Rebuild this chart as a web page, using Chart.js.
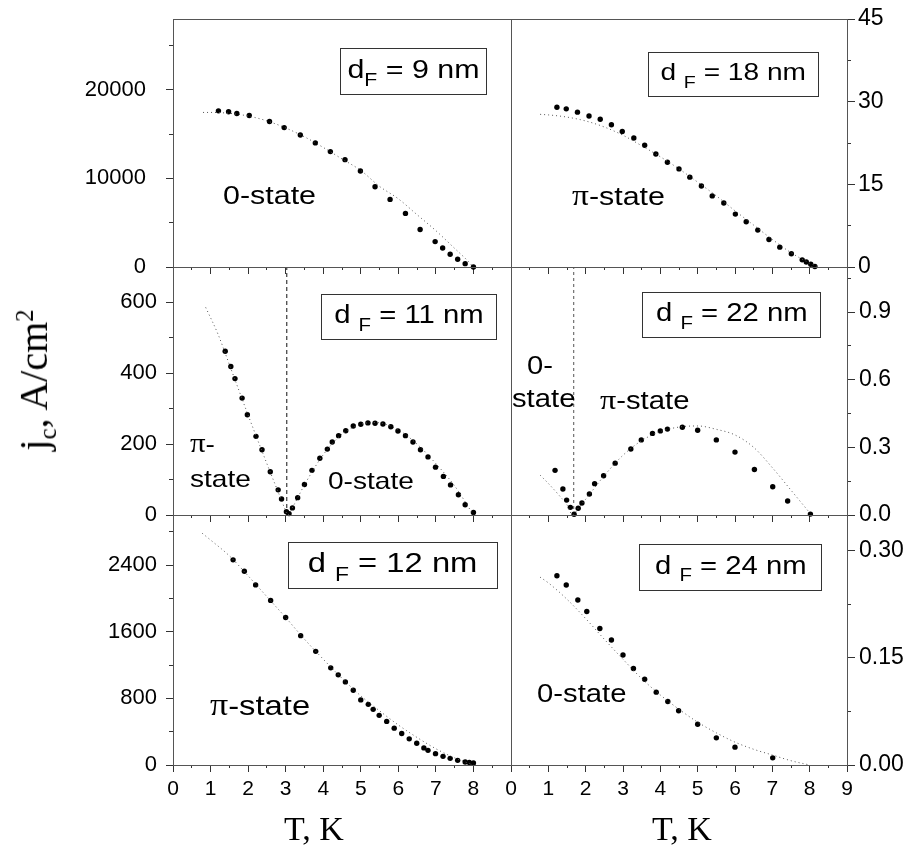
<!DOCTYPE html>
<html lang="en">
<head>
    <meta charset="UTF-8">
    <title>jc(T) for different dF</title>
    <script src="https://cdn.jsdelivr.net/npm/chart.js"></script>
    <style>
        body { margin: 0; background: #fff; }
        #wrap { position: relative; width: 918px; height: 845px; overflow: hidden; font-family: "Liberation Sans", Arial, sans-serif; color: #000; }
        #wrap canvas { position: absolute; left: 0; top: 0; }
        .box { position: absolute; box-sizing: border-box; border: 1px solid #333; display: flex; align-items: center; justify-content: center; white-space: nowrap; line-height: 1; }
        .box span { display: inline-block; transform: scaleX(1.17); padding-bottom: 5px; }
        .box sub { font-size: 0.7em; vertical-align: baseline; position: relative; top: 0.45em; }
        .lbl { position: absolute; line-height: 1; white-space: nowrap; transform: scaleX(1.17); transform-origin: left center; }
        .pi { font-family: "Liberation Serif", serif; font-size: 1.1em; }
        .title { position: absolute; font-family: "Liberation Serif", "Times New Roman", serif; white-space: nowrap; line-height: 1; }
        .title sub, .title sup { font-size: 0.62em; }
    </style>
</head>
<body>
<div id="wrap">
    <canvas id="c9" width="918" height="845"></canvas>
    <canvas id="c18" width="918" height="845"></canvas>
    <canvas id="c11" width="918" height="845"></canvas>
    <canvas id="c22" width="918" height="845"></canvas>
    <canvas id="c12" width="918" height="845"></canvas>
    <canvas id="c24" width="918" height="845"></canvas>

    <!-- thickness labels -->
    <div class="box" style="left:340px;top:48px;width:147px;height:47px;font-size:26px"><span>d<sub>F</sub> = 9 nm</span></div>
    <div class="box" style="left:648px;top:52px;width:171px;height:45px;font-size:24px"><span>d <sub>F</sub> = 18 nm</span></div>
    <div class="box" style="left:321px;top:294px;width:176px;height:46px;font-size:25px"><span>d <sub>F</sub> = 11 nm</span></div>
    <div class="box" style="left:642px;top:292px;width:179px;height:46px;font-size:25px"><span>d <sub>F</sub> = 22 nm</span></div>
    <div class="box" style="left:288px;top:542px;width:210px;height:47px;font-size:28px"><span>d <sub>F</sub> = 12 nm</span></div>
    <div class="box" style="left:639px;top:544px;width:183px;height:47px;font-size:25px"><span>d <sub>F</sub> = 24 nm</span></div>

    <!-- state labels -->
    <div class="lbl" style="left:223px;top:182px;font-size:26px">0-state</div>
    <div class="lbl" style="left:572px;top:182px;font-size:26px"><span class="pi">π</span>-state</div>
    <div class="lbl" style="left:190px;top:430px;font-size:24px"><span class="pi">π</span>-</div>
    <div class="lbl" style="left:190px;top:467px;font-size:24px">state</div>
    <div class="lbl" style="left:328px;top:469px;font-size:24px">0-state</div>
    <div class="lbl" style="left:527px;top:353px;font-size:25px">0-</div>
    <div class="lbl" style="left:512px;top:386px;font-size:25px">state</div>
    <div class="lbl" style="left:600px;top:386px;font-size:25px"><span class="pi">π</span>-state</div>
    <div class="lbl" style="left:210px;top:690px;font-size:28px"><span class="pi">π</span>-state</div>
    <div class="lbl" style="left:537px;top:681px;font-size:25px">0-state</div>

    <!-- axis titles -->
    <div class="title" style="left:37px;top:380px;font-size:40px;transform:translate(-50%,-50%) rotate(-90deg)">j<sub>c</sub>, A/cm<sup>2</sup></div>
    <div class="title" style="left:314px;top:812px;font-size:34px;transform:translateX(-50%)">T, K</div>
    <div class="title" style="left:682px;top:812px;font-size:34px;transform:translateX(-50%)">T, K</div>
</div>

<script>
    // ---- data ----
    // dF = 9 nm
    const T_9 = [1.21, 1.48, 1.70, 2.03, 2.57, 2.96, 3.39, 3.79, 4.19, 4.58, 4.99, 5.38, 5.78, 6.19, 6.58, 6.98, 7.18, 7.38, 7.58, 7.78, 8.00];
    const jc_9 = [17630, 17520, 17330, 17100, 16420, 15740, 14910, 14010, 13030, 12120, 10840, 9060, 7630, 6050, 4230, 2870, 2150, 1440, 870, 380, 0];
    const Tfit_9 = [0.8, 1.0, 1.5, 2.0, 2.5, 3.0, 3.5, 4.0, 4.5, 5.0, 5.5, 6.0, 6.5, 7.0, 7.5, 7.8, 8.0];
    const jcfit_9 = [17450, 17450, 17350, 17050, 16500, 15700, 14700, 13500, 12200, 10900, 9100, 7700, 5900, 4100, 2100, 900, 0];

    // dF = 18 nm
    const T_18 = [1.23, 1.48, 1.78, 2.09, 2.39, 2.69, 2.98, 3.29, 3.58, 3.88, 4.19, 4.50, 4.79, 5.10, 5.39, 5.70, 6.01, 6.30, 6.61, 6.91, 7.20, 7.51, 7.80, 7.91, 8.03, 8.14];
    const jc_18 = [29.0, 28.7, 28.1, 27.4, 26.8, 25.8, 24.6, 23.4, 22.1, 20.5, 19.0, 17.8, 16.3, 14.7, 12.9, 11.6, 9.6, 8.2, 6.7, 5.0, 3.6, 2.4, 1.3, 0.9, 0.5, 0.1];
    const Tfit_18 = [0.78, 1.0, 1.5, 2.0, 2.5, 3.0, 3.5, 4.0, 4.5, 5.0, 5.5, 6.0, 6.5, 7.0, 7.5, 8.0, 8.24];
    const jcfit_18 = [27.7, 27.6, 27.2, 26.5, 25.4, 23.9, 22.0, 20.0, 17.8, 15.4, 12.9, 10.2, 7.6, 5.0, 2.6, 0.7, 0];

    // dF = 11 nm
    const T_11 = [1.39, 1.54, 1.65, 1.84, 1.98, 2.21, 2.37, 2.59, 2.80, 2.89, 3.02, 3.09, 3.18, 3.32, 3.50, 3.70, 3.91, 4.11, 4.24, 4.41, 4.60, 4.80, 5.00, 5.19, 5.38, 5.59, 5.80, 5.99, 6.19, 6.39, 6.59, 6.79, 6.99, 7.20, 7.39, 7.60, 7.78, 8.00];
    const jc_11 = [462, 419, 385, 330, 283, 222, 184, 122, 71, 45, 9, 4, 20, 49, 86, 126, 160, 186, 206, 224, 238, 251, 256, 260, 259, 257, 249, 237, 224, 206, 184, 164, 135, 109, 85, 57, 29, 7];
    const Tfit_11 = [0.87, 1.2, 1.5, 2.0, 2.5, 2.8, 3.0, 3.05, 3.2, 3.5, 4.0, 4.5, 5.0, 5.4, 6.0, 6.5, 7.0, 7.5, 8.0];
    const jcfit_11 = [586, 510, 425, 282, 145, 65, 12, 0, 25, 85, 170, 228, 256, 261, 240, 200, 145, 82, 0];
    const Tcross_11 = 3.03;

    // dF = 22 nm
    const T_22 = [1.18, 1.39, 1.49, 1.59, 1.69, 1.80, 1.90, 2.10, 2.24, 2.48, 2.79, 3.21, 3.49, 3.79, 4.00, 4.19, 4.59, 5.00, 5.50, 6.00, 6.52, 7.01, 7.41, 8.02];
    const jc_22 = [0.198, 0.115, 0.066, 0.034, 0.003, 0.030, 0.053, 0.093, 0.139, 0.174, 0.230, 0.293, 0.333, 0.362, 0.373, 0.381, 0.389, 0.376, 0.333, 0.279, 0.202, 0.125, 0.062, 0.004];
    const Tfit_22 = [0.78, 1.0, 1.3, 1.5, 1.65, 1.8, 2.0, 2.5, 3.0, 3.5, 4.0, 4.5, 5.0, 5.5, 6.0, 6.5, 7.0, 7.5, 8.0];
    const jcfit_22 = [0.177, 0.14, 0.085, 0.045, 0, 0.03, 0.07, 0.175, 0.265, 0.33, 0.37, 0.39, 0.395, 0.38, 0.355, 0.30, 0.21, 0.11, 0.01];
    const Tcross_22 = 1.68;

    // dF = 12 nm
    const T_12 = [1.60, 1.90, 2.20, 2.60, 3.00, 3.40, 3.80, 4.20, 4.40, 4.59, 4.80, 5.00, 5.20, 5.33, 5.49, 5.69, 5.89, 6.09, 6.29, 6.49, 6.68, 6.79, 6.99, 7.19, 7.38, 7.58, 7.78, 7.89, 8.00];
    const jc_12 = [2462, 2325, 2161, 1975, 1770, 1552, 1364, 1166, 1082, 997, 897, 781, 728, 668, 596, 523, 442, 378, 314, 261, 205, 176, 136, 104, 80, 56, 36, 31, 24];
    const Tfit_12 = [0.78, 1.0, 1.5, 2.0, 2.5, 3.0, 3.5, 4.0, 4.5, 5.0, 5.5, 6.0, 6.5, 7.0, 7.5, 8.0];
    const jcfit_12 = [2780, 2700, 2510, 2270, 2020, 1770, 1510, 1270, 1040, 830, 650, 480, 330, 195, 85, 0];

    // dF = 24 nm
    const T_24 = [1.23, 1.48, 1.79, 2.03, 2.38, 2.69, 3.00, 3.28, 3.58, 3.89, 4.20, 4.49, 5.00, 5.50, 6.00, 7.01];
    const jc_24 = [0.265, 0.252, 0.231, 0.215, 0.191, 0.175, 0.154, 0.135, 0.120, 0.102, 0.089, 0.076, 0.057, 0.038, 0.025, 0.010];
    const Tfit_24 = [0.78, 1.0, 1.5, 2.0, 2.5, 3.0, 3.5, 4.0, 4.5, 5.0, 5.5, 6.0, 6.5, 7.0, 7.5, 8.0];
    const jcfit_24 = [0.263, 0.255, 0.232, 0.205, 0.176, 0.148, 0.121, 0.098, 0.078, 0.060, 0.045, 0.032, 0.022, 0.014, 0.006, 0];

    // tick labels
    const xLabelsLeft = [0, 1, 2, 3, 4, 5, 6, 7, 8];
    const xLabelsRight = [0, 1, 2, 3, 4, 5, 6, 7, 8, 9];
    const yLabels_9 = [0, 10000, 20000];
    const yLabels_18 = [0, 15, 30, 45];
    const yLabels_11 = [0, 200, 400, 600];
    const yLabels_22 = [0, 0.3, 0.6, 0.9];
    const yLabels_12 = [0, 800, 1600, 2400];
    const yLabels_24 = [0, 0.15, 0.30];

    // ---- layout ----
    const W = 918, H = 845;
    const colX = [[173, 511], [511, 847]];
    const rowY = [[19, 267], [267, 515], [515, 765]];

    Chart.defaults.font.family = '"Liberation Sans", Arial, sans-serif';
    Chart.defaults.color = '#000';

    const has = (arr, v) => arr.some(a => Math.abs(a - v) < 1e-9);
    const pts = (xs, ys) => xs.map((x, i) => ({ x: x, y: ys[i] }));

    // major + minor tick values from 0 up to max
    function tickValues(max, step) {
        const out = [];
        for (let i = 0; i * step <= max + 1e-9; i++) out.push({ value: +(i * step).toFixed(6) });
        return out;
    }

    // draws the full box round each panel
    const framePlugin = {
        id: 'frame',
        afterDraw(chart) {
            const a = chart.chartArea, ctx = chart.ctx;
            ctx.save();
            ctx.strokeStyle = '#555';
            ctx.lineWidth = 1;
            ctx.strokeRect(a.left + 0.5, a.top + 0.5, a.right - a.left, a.bottom - a.top);
            ctx.restore();
        }
    };

    function makePanel(id, p) {
        const [L, R] = colX[p.col];
        const [T, B] = rowY[p.row];
        const left = p.col === 0;
        const yw = left ? 100 : 70;
        const xh = p.row === 2 ? 45 : 12;
        const padding = left
            ? { left: L - yw, right: W - R, top: T, bottom: H - B - xh }
            : { left: L, right: W - R - yw, top: T, bottom: H - B - xh };
        const xLabels = left ? xLabelsLeft : xLabelsRight;

        const datasets = [
            {
                data: pts(p.Tfit, p.jcfit), showLine: true, pointRadius: 0,
                borderColor: '#555', borderWidth: 1, borderDash: [1, 3],
                cubicInterpolationMode: 'monotone', clip: 6
            },
            {
                data: pts(p.T, p.jc), showLine: false, pointRadius: 2.7,
                backgroundColor: '#000', borderWidth: 0, clip: 6
            }
        ];
        if (p.cross !== undefined) {
            datasets.push({
                data: [{ x: p.cross, y: 0 }, { x: p.cross, y: p.yMax }], showLine: true, pointRadius: 0,
                borderColor: p.crossColor, borderWidth: 1, borderDash: p.crossDash
            });
        }

        new Chart(document.getElementById(id), {
            type: 'scatter',
            data: { datasets: datasets },
            options: {
                responsive: false, animation: false, events: [],
                devicePixelRatio: 1,
                layout: { padding: padding },
                plugins: { legend: { display: false }, tooltip: { enabled: false } },
                scales: {
                    x: {
                        type: 'linear', position: 'bottom', min: 0, max: 9, bounds: 'data',
                        afterBuildTicks: s => { s.ticks = tickValues(9, 0.5); },
                        afterFit: s => { s.height = xh; s.paddingLeft = 0; s.paddingRight = 0; },
                        border: { display: false },
                        grid: {
                            drawOnChartArea: false, tickLength: 7, tickColor: '#333',
                            tickBorderDash: c => (c.tick && has(xLabelsRight, c.tick.value)) ? [] : [3, 20]
                        },
                        ticks: {
                            display: p.row === 2, autoSkip: false, maxRotation: 0, padding: 5,
                            font: { size: 21 },
                            callback: v => has(xLabels, v) ? String(v) : ''
                        }
                    },
                    y: {
                        type: 'linear', position: left ? 'left' : 'right', min: 0, max: p.yMax, bounds: 'data',
                        afterBuildTicks: s => { s.ticks = tickValues(p.yMax, p.yStep); },
                        afterFit: s => { s.width = yw; s.paddingTop = 0; s.paddingBottom = 0; },
                        border: { display: false },
                        grid: {
                            drawOnChartArea: false, tickLength: left ? 7 : 8, tickColor: '#333',
                            tickBorderDash: c => (c.tick && has(p.yLabels, c.tick.value)) ? [] : (left ? [4, 3] : [4, 20]),
                            tickBorderDashOffset: c => left ? 4 : 0
                        },
                        ticks: {
                            autoSkip: false, padding: p.pad,
                            font: { size: left ? 22 : 23 },
                            callback: v => has(p.yLabels, v) ? v.toFixed(p.dec) : ''
                        }
                    }
                }
            },
            plugins: [framePlugin]
        });
    }

    makePanel('c9', { col: 0, row: 0, T: T_9, jc: jc_9, Tfit: Tfit_9, jcfit: jcfit_9, yMax: 28000, yStep: 5000, yLabels: yLabels_9, dec: 0, pad: 20 });
    makePanel('c18', { col: 1, row: 0, T: T_18, jc: jc_18, Tfit: Tfit_18, jcfit: jcfit_18, yMax: 45, yStep: 7.5, yLabels: yLabels_18, dec: 0, pad: 3 });
    makePanel('c11', { col: 0, row: 1, T: T_11, jc: jc_11, Tfit: Tfit_11, jcfit: jcfit_11, yMax: 700, yStep: 100, yLabels: yLabels_11, dec: 0, pad: 9,
        cross: Tcross_11, crossColor: '#111', crossDash: [4, 3] });
    makePanel('c22', { col: 1, row: 1, T: T_22, jc: jc_22, Tfit: Tfit_22, jcfit: jcfit_22, yMax: 1.1, yStep: 0.15, yLabels: yLabels_22, dec: 1, pad: 4,
        cross: Tcross_22, crossColor: '#555', crossDash: [3, 3] });
    makePanel('c12', { col: 0, row: 2, T: T_12, jc: jc_12, Tfit: Tfit_12, jcfit: jcfit_12, yMax: 3000, yStep: 400, yLabels: yLabels_12, dec: 0, pad: 9 });
    makePanel('c24', { col: 1, row: 2, T: T_24, jc: jc_24, Tfit: Tfit_24, jcfit: jcfit_24, yMax: 0.35, yStep: 0.075, yLabels: yLabels_24, dec: 2, pad: 4 });
</script>
</body>
</html>
